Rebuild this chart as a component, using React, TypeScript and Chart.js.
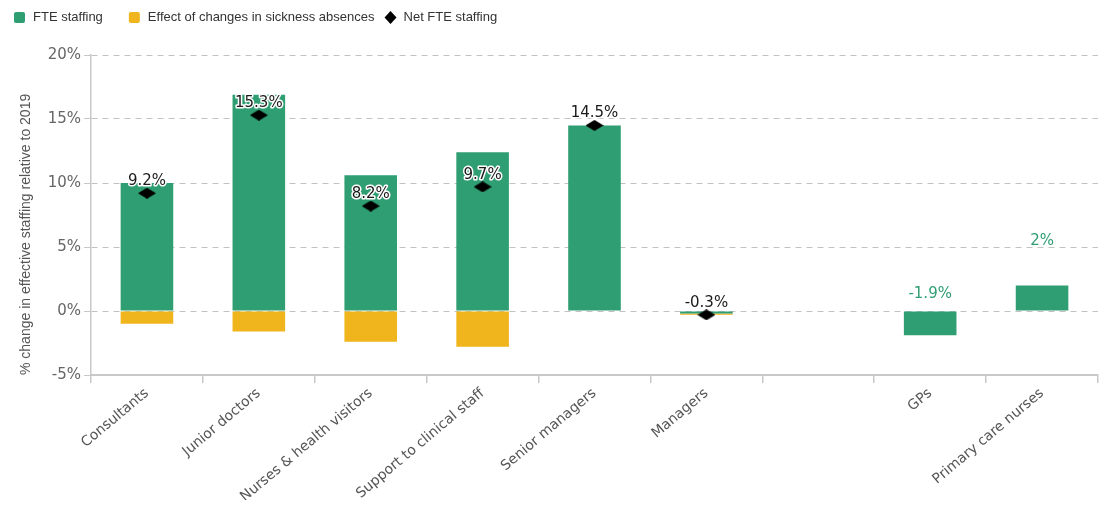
import React, { useEffect, useRef } from 'react';
import { Chart, registerables } from 'chart.js';

Chart.register(...registerables);

const categories = [
  'Consultants',
  'Junior doctors',
  'Nurses & health visitors',
  'Support to clinical staff',
  'Senior managers',
  'Managers',
  '',
  'GPs',
  'Primary care nurses',
];
const fteStaffing: (number | null)[] = [10.0, 16.9, 10.6, 12.4, 14.5, -0.2, null, -1.9, 2.0];
const sicknessEffect: (number | null)[] = [-1.0, -1.6, -2.4, -2.8, 0, -0.1, null, null, null];
const netFteStaffing: (number | null)[] = [9.2, 15.3, 8.2, 9.7, 14.5, -0.3, null, null, null];
const seriesNames = ['FTE staffing', 'Effect of changes in sickness absences', 'Net FTE staffing'];
const yMin = -5;
const yMax = 20;
const yStep = 5;

const GREEN = '#2f9e72';
const YELLOW = '#f0b41c';
const GRID = '#c2c2c2';
const AXIS = '#c8c8c8';

const fmt = (v: number) => `${v}%`;

const legendPlugin = {
  id: 'customLegend',
  afterDraw(chart: any) {
    const ctx = chart.ctx;
    const ds = chart.data.datasets;
    ctx.save();
    ctx.font = '13px "Liberation Sans", Arial, sans-serif';
    ctx.textBaseline = 'middle';
    ctx.textAlign = 'left';
    const y = 9.5;
    let x = 6;
    const gaps = [26, 10, 0];
    ds.forEach((d: any, i: number) => {
      if (d.type === 'line') {
        ctx.fillStyle = '#000';
        ctx.beginPath();
        ctx.moveTo(x + 6, y - 6.5);
        ctx.lineTo(x + 12, y);
        ctx.lineTo(x + 6, y + 6.5);
        ctx.lineTo(x, y);
        ctx.closePath();
        ctx.fill();
      } else {
        ctx.fillStyle = d.backgroundColor;
        ctx.beginPath();
        (ctx as any).roundRect(x, y - 5.5, 11, 11, 2);
        ctx.fill();
      }
      const tx = x + 19;
      ctx.fillStyle = '#333';
      ctx.fillText(d.label, tx, y);
      x = tx + ctx.measureText(d.label).width + gaps[i];
    });
    ctx.restore();
  },
};

const valueLabelPlugin = {
  id: 'valueLabels',
  afterDatasetsDraw(chart: any, _args: any, opts: any) {
    const ctx = chart.ctx;
    const yScale = chart.scales.y;
    const netMeta = chart.getDatasetMeta(2);
    const barMeta = chart.getDatasetMeta(0);
    ctx.save();
    ctx.font = '15px "DejaVu Sans", sans-serif';
    ctx.textAlign = 'center';
    ctx.textBaseline = 'middle';
    ctx.lineJoin = 'round';
    ctx.lineWidth = 3;
    ctx.strokeStyle = '#ffffff';
    netFteStaffing.forEach((v, i) => {
      if (v == null) return;
      const el = netMeta.data[i];
      const t = fmt(v);
      ctx.strokeText(t, el.x, el.y - 12);
      ctx.fillStyle = '#1a1a1a';
      ctx.fillText(t, el.x, el.y - 12);
    });
    const offsets = opts.offsets || {};
    fteStaffing.forEach((v, i) => {
      if (v == null || netFteStaffing[i] != null) return;
      const el = barMeta.data[i];
      const top = yScale.getPixelForValue(Math.max(v, 0));
      const yy = top - (offsets[i] ?? 17);
      const t = fmt(v);
      ctx.strokeText(t, el.x, yy);
      ctx.fillStyle = GREEN;
      ctx.fillText(t, el.x, yy);
    });
    ctx.restore();
  },
};

function makeDiamond(): HTMLCanvasElement {
  const c = document.createElement('canvas');
  c.width = 18;
  c.height = 11;
  const g = c.getContext('2d')!;
  g.fillStyle = '#000';
  g.beginPath();
  g.moveTo(9, 0);
  g.lineTo(18, 5.5);
  g.lineTo(9, 11);
  g.lineTo(0, 5.5);
  g.closePath();
  g.fill();
  return c;
}

export default function App() {
  const ref = useRef<HTMLCanvasElement | null>(null);

  useEffect(() => {
    if (!ref.current) return;
    const diamond = makeDiamond();
    const chart = new Chart(ref.current, {
      type: 'bar',
      data: {
        labels: categories,
        datasets: [
          {
            type: 'bar',
            label: seriesNames[0],
            data: fteStaffing as any,
            backgroundColor: GREEN,
            barPercentage: 0.47,
            categoryPercentage: 1,
            order: 2,
          },
          {
            type: 'bar',
            label: seriesNames[1],
            data: sicknessEffect as any,
            backgroundColor: YELLOW,
            barPercentage: 0.47,
            categoryPercentage: 1,
            order: 2,
          },
          {
            type: 'line',
            label: seriesNames[2],
            data: netFteStaffing as any,
            showLine: false,
            pointStyle: diamond as any,
            pointRadius: 6,
            backgroundColor: '#000',
            borderColor: '#000',
            order: 0,
          } as any,
        ],
      },
      options: {
        animation: false,
        responsive: true,
        maintainAspectRatio: false,
        layout: { padding: { left: 0, right: 3, top: 47, bottom: 0 } },
        plugins: {
          legend: { display: false },
          tooltip: { enabled: false },
          valueLabels: { offsets: { 7: 17, 8: 44 } },
        } as any,
        scales: {
          x: {
            stacked: true,
            offset: true,
            afterFit: (s: any) => {
              s.height = 125;
              s.paddingRight = 0;
            },
            grid: {
              display: true,
              drawOnChartArea: false,
              drawTicks: true,
              tickLength: 8,
              offset: true,
              tickColor: AXIS,
              lineWidth: 1.5,
              tickBorderDash: [],
            } as any,
            border: { display: true, color: AXIS, width: 2 },
            ticks: {
              autoSkip: false,
              minRotation: 40,
              maxRotation: 40,
              padding: 2,
              color: '#555',
              font: { family: '"DejaVu Sans", sans-serif', size: 14 },
            },
          },
          y: {
            stacked: true,
            min: yMin,
            max: yMax,
            afterFit: (s: any) => {
              s.width = 83;
            },
            grid: {
              color: (c: any) => (c.tick && c.tick.value === yMin ? 'rgba(0,0,0,0)' : GRID),
              lineWidth: 1,
              drawTicks: true,
              tickLength: 7,
              tickColor: AXIS,
              tickBorderDash: [],
            } as any,
            border: { display: true, color: AXIS, width: 1.5, dash: [6, 5] },
            ticks: {
              stepSize: yStep,
              padding: 3,
              color: '#666',
              font: { family: '"DejaVu Sans", sans-serif', size: 15 },
              callback: (v: any) => `${v}%`,
            },
            title: {
              display: true,
              text: '% change in effective staffing relative to 2019',
              align: 'start',
              color: '#555',
              padding: { top: 10, bottom: 0 },
              font: { family: '"Liberation Sans", Arial, sans-serif', size: 14 },
            },
          },
        },
      },
      plugins: [legendPlugin, valueLabelPlugin],
    });
    return () => chart.destroy();
  }, []);

  return (
    <div style={{ position: 'relative', width: '1097px', height: '492px' }}>
      <canvas ref={ref} />
    </div>
  );
}
